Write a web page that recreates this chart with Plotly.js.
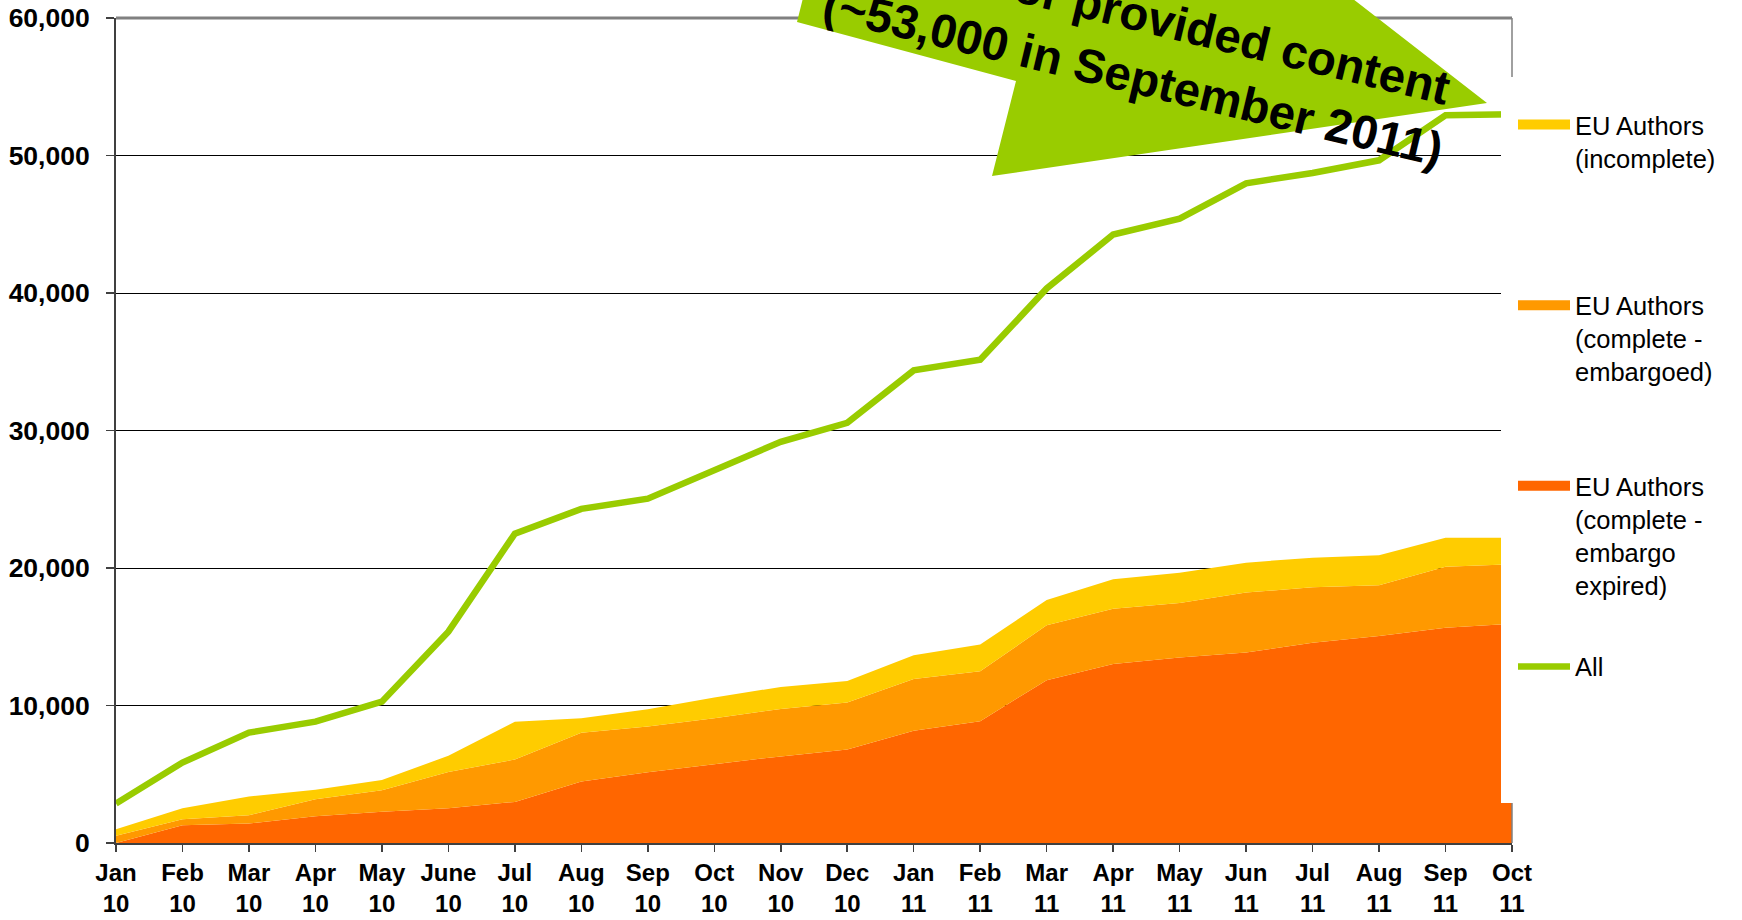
<!DOCTYPE html>
<html>
<head>
<meta charset="utf-8">
<script src="https://cdn.plot.ly/plotly-3.0.1.min.js"></script>
<style>
  html, body { margin: 0; padding: 0; background: #ffffff; }
  #chart { width: 1742px; height: 920px; }
</style>
</head>
<body>
<div id="chart"></div>
<script>
// ---- data ----
const months = ['Jan','Feb','Mar','Apr','May','June','Jul','Aug','Sep','Oct','Nov','Dec',
                'Jan','Feb','Mar','Apr','May','Jun','Jul','Aug','Sep','Oct'];
const years  = ['10','10','10','10','10','10','10','10','10','10','10','10',
                '11','11','11','11','11','11','11','11','11','11'];
const categories = months.map((m, i) => m + '<br>' + years[i]);

const embargoExpired = [0, 1300, 1420, 1950, 2270, 2530, 2990, 4470, 5150, 5730, 6300,
                        6800, 8160, 8860, 11840, 13020, 13500, 13850, 14570, 15060, 15660, 15950];
const embargoed      = [520, 430, 600, 1230, 1570, 2640, 3080, 3540, 3320, 3340, 3450,
                        3410, 3770, 3630, 3990, 4020, 3960, 4360, 4030, 3680, 4440, 4320];
const incomplete     = [480, 800, 1360, 690, 750, 1170, 2740, 1060, 1260, 1510, 1600,
                        1580, 1720, 1940, 1850, 2140, 2200, 2180, 2150, 2180, 2100, 1930];
const allContent     = [2870, 5850, 8030, 8830, 10280, 15370, 22500, 24300, 25040, 27050, 29180,
                        30560, 34370, 35140, 40330, 44250, 45410, 47980, 48730, 49650, 52930, 53000];

const seriesNames = ['EU Authors<br>(incomplete)',
                     'EU Authors<br>(complete -<br>embargoed)',
                     'EU Authors<br>(complete -<br>embargo<br>expired)',
                     'All'];
const tickValues = [0, 10000, 20000, 30000, 40000, 50000, 60000];
const calloutText = 'All author provided content<br>(~53,000 in September 2011)';

// ---- styling ----
const C_EXPIRED = '#FF6600', C_EMB = '#FF9900', C_INC = '#FFCC00', C_ALL = '#99CC00';
const FONT = 'Liberation Sans, Arial, sans-serif';
const M = {l: 116, r: 230, t: 18, b: 77};
const W = 1742, H = 920;
const PW = W - M.l - M.r, PH = H - M.t - M.b;
// decoration placement helpers (pixel -> paper), tuned to the reference at its 20px top offset
const OFF = -2;
function px(x) { return (x - M.l) / PW; }
function py(y) { return (H - M.b - (y + OFF)) / PH; }

const traces = [
  {type: 'scatter', mode: 'none', x: categories, y: embargoExpired, stackgroup: 'a',
   fillcolor: C_EXPIRED, name: 'EU Authors (complete - embargo expired)', showlegend: false, hoverinfo: 'skip'},
  {type: 'scatter', mode: 'none', x: categories, y: embargoed, stackgroup: 'a',
   fillcolor: C_EMB, name: 'EU Authors (complete - embargoed)', showlegend: false, hoverinfo: 'skip'},
  {type: 'scatter', mode: 'none', x: categories, y: incomplete, stackgroup: 'a',
   fillcolor: C_INC, name: 'EU Authors (incomplete)', showlegend: false, hoverinfo: 'skip'},
  {type: 'scatter', mode: 'lines', x: categories, y: allContent, showlegend: false,
   line: {color: C_ALL, width: 6.5}, name: 'All', hoverinfo: 'skip'},
  // legend entries
  {type: 'scatter', mode: 'lines', x: [null], y: [null], name: seriesNames[0] + '<br> <br> ',
   legendgroup: 'g1', line: {color: C_INC, width: 13}},
  {type: 'scatter', mode: 'lines', x: [null], y: [null], name: seriesNames[1] + '<br> ',
   legendgroup: 'g2', line: {color: C_EMB, width: 13}},
  {type: 'scatter', mode: 'lines', x: [null], y: [null], name: seriesNames[2],
   legendgroup: 'g3', line: {color: C_EXPIRED, width: 13}},
  {type: 'scatter', mode: 'lines', x: [null], y: [null], name: seriesNames[3],
   legendgroup: 'g4', line: {color: C_ALL, width: 6.5}}
];

const arrowPts = [[808,-20],[797,24],[1016,83],[992,178],[1487,105],[1326,-20]];
const arrowPath = 'M' + arrowPts.map(p => px(p[0]) + ',' + py(p[1])).join('L') + 'Z';

const layout = {
  width: W, height: H,
  margin: M,
  paper_bgcolor: '#ffffff', plot_bgcolor: '#ffffff',
  font: {family: FONT, color: '#000000'},
  showlegend: true,
  legend: {
    x: px(1513), xanchor: 'left', y: py(103.5), yanchor: 'top',
    bgcolor: 'rgba(0,0,0,0)', borderwidth: 0,
    font: {family: FONT, size: 25.5, color: '#000000'},
    itemwidth: 52, valign: 'top', tracegroupgap: 45, traceorder: 'grouped'
  },
  xaxis: {
    type: 'category', range: [0, categories.length - 1],
    showgrid: false, zeroline: false,
    showline: true, linecolor: '#404040', linewidth: 2,
    ticks: 'outside', ticklen: 7, tickwidth: 1.5, tickcolor: '#404040',
    tickfont: {family: FONT, size: 24, weight: 'bold', color: '#000000'},
    fixedrange: true
  },
  yaxis: {
    range: [0, 60000], tickvals: tickValues, tickformat: ',d',
    showgrid: true, gridcolor: '#000000', gridwidth: 1, zeroline: false,
    showline: true, linecolor: '#404040', linewidth: 2,
    ticks: 'outside', ticklen: 8, tickwidth: 1.5, tickcolor: '#404040',
    ticklabelstandoff: 11,
    tickfont: {family: FONT, size: 26.5, weight: 'bold', color: '#000000'},
    fixedrange: true
  },
  shapes: [
    {type: 'line', xref: 'paper', yref: 'paper', x0: 1, x1: 1, y0: 0, y1: 1,
     line: {color: '#808080', width: 1.5}, layer: 'above'},
    {type: 'rect', xref: 'paper', yref: 'paper', x0: px(1501), x1: 1.4, y0: py(805), y1: py(79),
     fillcolor: '#ffffff', line: {width: 0}, layer: 'above'},
    {type: 'line', xref: 'paper', yref: 'paper', x0: 0, x1: 1, y0: 1, y1: 1,
     line: {color: '#808080', width: 3}, layer: 'above'},
    {type: 'path', xref: 'paper', yref: 'paper', path: arrowPath,
     fillcolor: C_ALL, line: {width: 0}, layer: 'above'}
  ],
  annotations: [
    {xref: 'paper', yref: 'paper', x: px(1140), y: py(48), xanchor: 'center', yanchor: 'middle',
     text: calloutText, showarrow: false, textangle: 13.5,
     font: {family: FONT, size: 47.5, weight: 'bold', color: '#000000'}}
  ]
};

Plotly.newPlot('chart', traces, layout, {displayModeBar: false, staticPlot: true});
</script>
</body>
</html>
